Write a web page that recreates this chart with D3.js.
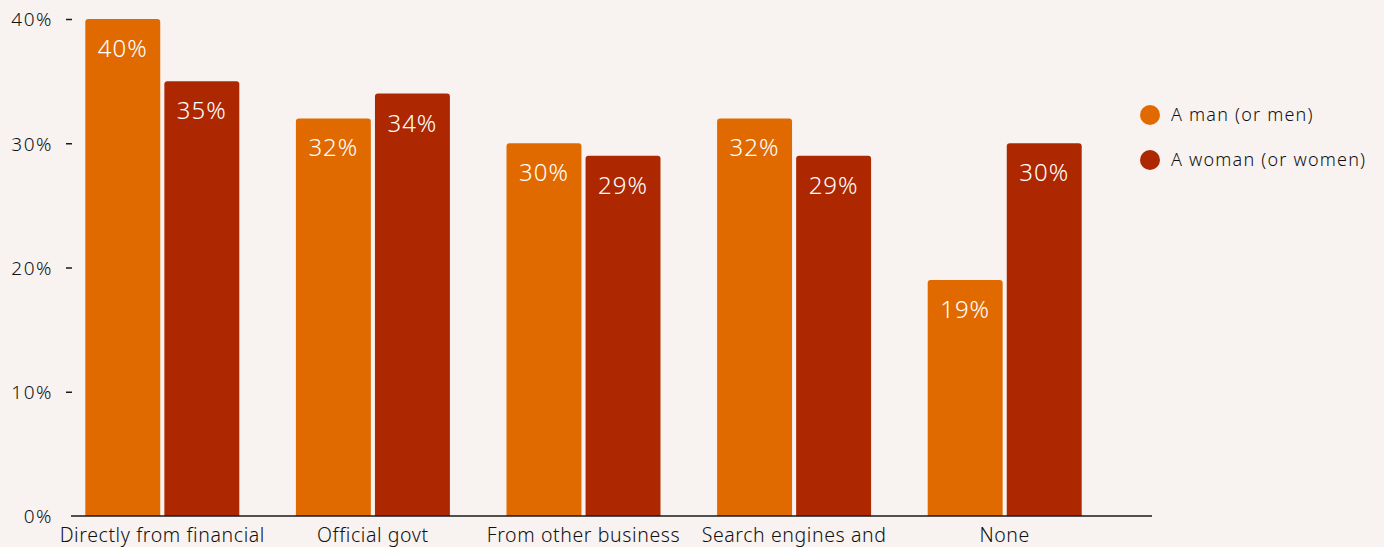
<!DOCTYPE html>
<html>
<head>
<meta charset="utf-8">
<script src="https://cdn.jsdelivr.net/npm/d3@7"></script>
<style>
  html, body { margin: 0; padding: 0; background: #f8f3f1; }
  svg { display: block; font-family: "Noto Sans", "Open Sans", sans-serif; }
</style>
</head>
<body>
<svg id="chart" width="1384" height="547"></svg>
<script>
// Where people look for information, by gender
const categories = [
  "Directly from financial",
  "Official govt",
  "From other business",
  "Search engines and",
  "None"
];
const seriesNames = ["A man (or men)", "A woman (or women)"];
const menValues = [40, 32, 30, 32, 19];
const womenValues = [35, 34, 29, 29, 30];
const yTicks = [0, 10, 20, 30, 40];
const colors = ["#e06a00", "#ad2800"];

const FONT = "'Noto Sans', 'Open Sans', sans-serif";
const svg = d3.select("#chart");

const y = d3.scaleLinear().domain([0, 40]).range([516, 19]);
const x = d3.scaleBand().domain(categories).range([57, 1110]).paddingInner(0).paddingOuter(0);
const barW = 73, barGap = 8;
const xs = d3.scaleBand().domain(seriesNames)
  .range([0, barW * 2 + barGap]).paddingInner(barGap / (barW * 2 + barGap));

const rows = categories.map((c, i) => ({ cat: c, vals: [menValues[i], womenValues[i]] }));

// y axis: labels and short dashes
const yAxis = d3.axisLeft(y).tickValues(yTicks).tickFormat(d => d + "%").tickSize(6).tickPadding(13);
const gy = svg.append("g").attr("transform", "translate(72,0)").call(yAxis);
gy.select(".domain").remove();
gy.selectAll(".tick line").attr("stroke", "#1a1a1a").attr("stroke-width", 1.5);
gy.selectAll(".tick").filter(d => d === 0).select("line").remove();
gy.selectAll(".tick text").attr("font-size", 19).attr("fill", "#111")
  .attr("font-family", FONT).attr("font-weight", 300).attr("letter-spacing", 1.5)
  .attr("dy", "0.36em");

// bars
const groups = svg.append("g").selectAll("g").data(rows).join("g")
  .attr("transform", d => `translate(${x(d.cat) + x.bandwidth() / 2 - (barW * 2 + barGap) / 2},0)`);

groups.selectAll("path").data(d => d.vals.map((v, k) => ({ v, k })))
  .join("path")
  .attr("fill", d => colors[d.k])
  .attr("d", d => {
    const x0 = xs(seriesNames[d.k]), w = xs.bandwidth();
    const top = y(d.v), bot = y(0), r = 3;
    return `M${x0},${bot}V${top + r}Q${x0},${top} ${x0 + r},${top}H${x0 + w - r}Q${x0 + w},${top} ${x0 + w},${top + r}V${bot}Z`;
  });

groups.selectAll("text").data(d => d.vals.map((v, k) => ({ v, k })))
  .join("text")
  .attr("x", d => xs(seriesNames[d.k]) + xs.bandwidth() / 2)
  .attr("y", d => y(d.v) + 38)
  .attr("text-anchor", "middle")
  .attr("font-size", 24)
  .attr("font-weight", 300)
  .attr("letter-spacing", 1)
  .attr("fill", "#ffffff")
  .text(d => d.v + "%");

// baseline
svg.append("line").attr("x1", 71).attr("x2", 1152).attr("y1", y(0)).attr("y2", y(0))
  .attr("stroke", "#1a1a1a").attr("stroke-width", 1.5);

// category labels
const xAxis = d3.axisBottom(x).tickSize(0).tickPadding(0);
const gx = svg.append("g").attr("transform", `translate(0,${y(0)})`).call(xAxis);
gx.select(".domain").remove();
gx.selectAll(".tick text").attr("font-size", 19.5).attr("fill", "#111")
  .attr("font-family", FONT).attr("font-weight", 300).attr("letter-spacing", 0.6)
  .attr("dy", 0).attr("y", 26);

// legend
const legend = svg.append("g").selectAll("g").data(seriesNames).join("g")
  .attr("transform", (d, i) => `translate(1150,${115 + i * 45})`);
legend.append("circle").attr("r", 10).attr("fill", (d, i) => colors[i]);
legend.append("text").attr("x", 21).attr("dy", "0.35em").attr("font-size", 18)
  .attr("font-weight", 300).attr("letter-spacing", 1.2)
  .attr("fill", "#111").text(d => d);
</script>
</body>
</html>
